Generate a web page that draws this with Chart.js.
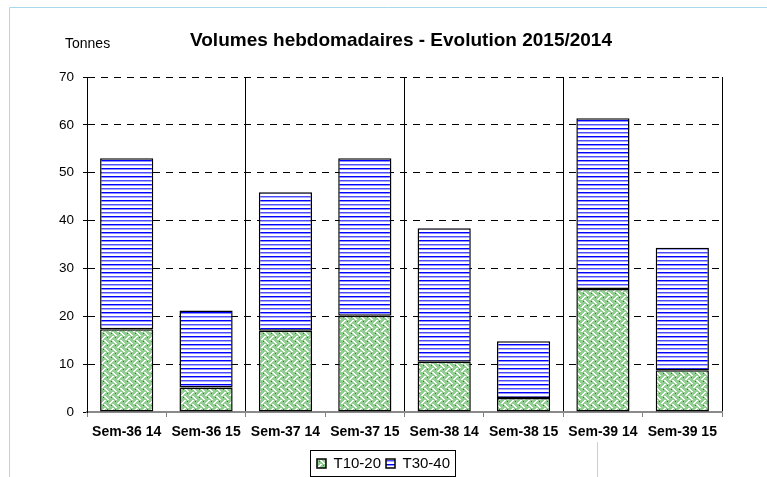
<!DOCTYPE html>
<html>
<head>
<meta charset="utf-8">
<script src="https://cdn.jsdelivr.net/npm/chart.js@4/dist/chart.umd.min.js"></script>
<style>
  html, body { margin: 0; padding: 0; background: #fff; }
  #wrap { width: 767px; height: 477px; position: relative; }
</style>
</head>
<body>
<div id="wrap"><canvas id="myChart" width="767" height="477"></canvas></div>
<script>
// weeks (year 14 / year 15)
var weeks = ['Sem-36 14', 'Sem-36 15', 'Sem-37 14', 'Sem-37 15', 'Sem-38 14', 'Sem-38 15', 'Sem-39 14', 'Sem-39 15'];
// tonnes per size class
var t1020 = [17.3, 5.1, 17.0, 20.1, 10.5, 2.9, 25.7, 8.7];
var t3040 = [35.7, 16.1, 28.9, 32.9, 27.9, 11.9, 35.7, 25.6];
var seriesNames = ['T10-20', 'T30-40'];
var yTicks = [0, 10, 20, 30, 40, 50, 60, 70];

var FONT = '"Liberation Sans", Arial, sans-serif';

//pattern helpers
function greenPattern(){
	var c = document.createElement('canvas');
	c.width = 8; c.height = 8;
	var g = c.getContext('2d');
	g.fillStyle = '#93cf93';
	g.fillRect(0, 0, 8, 8);
	g.fillStyle = '#ffffff';
	for (var y = 0; y < 8; y++) {
		for (var x = 0; x < 8; x++) {
			var a = (x + y) % 8, b = (x - y + 16) % 8;
			if ((y < 4 && (a == 0 || a == 1)) || (y >= 4 && (b == 4 || b == 5))) g.fillRect(x, y, 1, 1);
		}
	}
	g.fillStyle = '#1f8a1f';
	g.fillRect(3, 1, 1, 1);
	g.fillRect(7, 5, 1, 1);
	return g.createPattern(c, 'repeat');
}
function bluePattern(){
	var c = document.createElement('canvas');
	c.width = 4; c.height = 8;
	var g = c.getContext('2d');
	g.fillStyle = '#ffffff';
	g.fillRect(0, 0, 4, 8);
	g.fillStyle = '#0000ff'; g.fillRect(0, 0, 4, 1);
	g.fillStyle = '#9090ff'; g.fillRect(0, 1, 4, 1);
	g.fillStyle = '#4c4cff'; g.fillRect(0, 4, 4, 1);
	g.fillStyle = '#aaaaff'; g.fillRect(0, 5, 4, 1);
	return g.createPattern(c, 'repeat');
}

//frame, title and legend box
var decor = {
	id: 'decor',
	beforeDraw: function(chart){
		var ctx = chart.ctx;
		ctx.save();
		ctx.strokeStyle = '#a9d9ef';
		ctx.lineWidth = 1;
		ctx.beginPath();
		ctx.moveTo(9.5, 477); ctx.lineTo(9.5, 7.5); ctx.lineTo(767, 7.5);
		ctx.moveTo(597.5, 442); ctx.lineTo(597.5, 477);
		ctx.stroke();
		ctx.fillStyle = '#000';
		ctx.textBaseline = 'middle';
		ctx.font = 'bold 19px ' + FONT;
		ctx.textAlign = 'center';
		ctx.fillText('Volumes hebdomadaires - Evolution 2015/2014', 401, 41);
		ctx.font = '14px ' + FONT;
		ctx.textAlign = 'left';
		ctx.fillText('Tonnes', 65, 44);
		ctx.restore();
	},
	afterDraw: function(chart){
		var boxes = chart.legend.legendHitBoxes;
		if (!boxes || !boxes.length) return;
		var l = Infinity, r = -Infinity, t = Infinity, b = -Infinity;
		boxes.forEach(function(h){
			l = Math.min(l, h.left); r = Math.max(r, h.left + h.width);
			t = Math.min(t, h.top); b = Math.max(b, h.top + h.height);
		});
		var ctx = chart.ctx;
		ctx.save();
		ctx.strokeStyle = '#000';
		ctx.lineWidth = 1;
		ctx.strokeRect(Math.round(l) - 6.5, Math.round(t) - 5.5, Math.round(r - l) + 12, Math.round(b - t) + 11);
		ctx.restore();
	}
};

var ctx = document.getElementById('myChart');
var myChart = new Chart(ctx, {
	type: 'bar',
	data: {
		labels: weeks,
		datasets: [{
			label: seriesNames[0],
			data: t1020,
			backgroundColor: greenPattern(),
			borderColor: '#000',
			borderWidth: 1.5,
			borderSkipped: false
		}, {
			label: seriesNames[1],
			data: t3040,
			backgroundColor: bluePattern(),
			borderColor: '#000',
			borderWidth: 1.5,
			borderSkipped: false
		}]
	},
	plugins: [decor],
	options: {
		responsive: false,
		animation: false,
		layout: {
			padding: { left: 0, right: 0, top: 77, bottom: -4 }
		},
		datasets: {
			bar: { barPercentage: 0.67, categoryPercentage: 1 }
		},
		plugins: {
			title: { display: false },
			tooltip: { enabled: false },
			legend: {
				position: 'bottom',
				labels: {
					color: '#000',
					boxWidth: 9,
					boxHeight: 9,
					padding: 5,
					font: { family: FONT, size: 15 }
				}
			}
		},
		scales: {
			x: {
				stacked: true,
				afterFit: function(scale){ scale.height = 39; },
				grid: {
					offset: true,
					drawOnChartArea: true,
					color: function(c){
						if (c.index === undefined) return '#000';
						return (c.index % 2 == 0 && c.index > 0) ? '#000' : 'rgba(0,0,0,0)';
					},
					lineWidth: 1,
					tickColor: '#808080',
					tickLength: 5
				},
				border: { color: '#8a8a8a', width: 2 },
				ticks: {
					color: '#000',
					padding: 7,
					maxRotation: 0,
					font: { family: FONT, size: 14, weight: 'bold' }
				}
			},
			y: {
				stacked: true,
				min: 0,
				max: 70,
				afterFit: function(scale){ scale.width = 87; },
				afterBuildTicks: function(scale){
					scale.ticks = yTicks.map(function(v){ return { value: v }; });
				},
				grid: {
					color: function(c){ return c.tick && c.tick.value == 0 ? 'rgba(0,0,0,0)' : '#000'; },
					lineWidth: 1,
					tickColor: '#000',
					tickLength: 4
				},
				border: { color: '#000', width: 1, dash: [7, 6] },
				ticks: {
					color: '#000',
					padding: 9,
					font: { family: FONT, size: 13.5 }
				}
			},
			// empty right gutter so the legend centres on the page
			gutter: {
				type: 'linear',
				position: 'right',
				display: true,
				afterFit: function(scale){ scale.width = 45; },
				grid: { display: false },
				border: { display: false },
				ticks: { display: false }
			}
		}
	}
});
</script>
</body>
</html>
